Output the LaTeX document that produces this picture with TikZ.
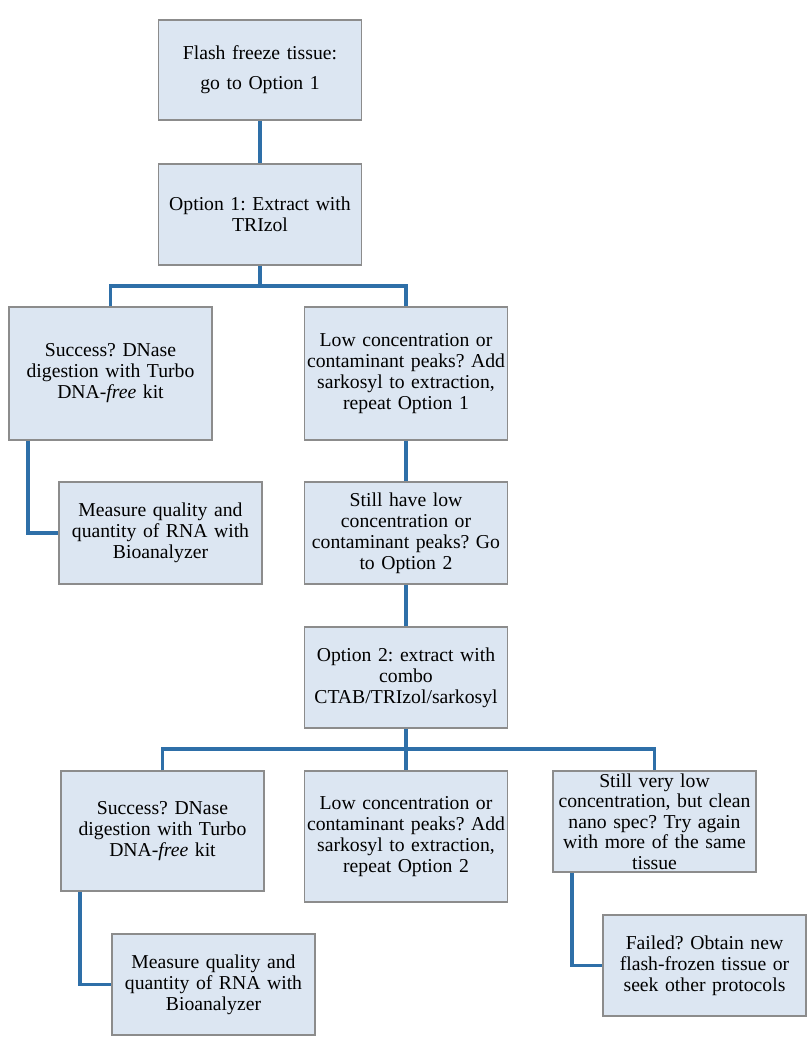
\documentclass[tikz,border=0pt]{standalone}
\usepackage{fontspec}
\setmainfont{Liberation Serif}
\usetikzlibrary{calc}
\definecolor{boxfill}{HTML}{DCE6F2}
\definecolor{boxline}{HTML}{8C8C8C}
\definecolor{linkblue}{HTML}{2E6FA8}
\frenchspacing
\tikzset{
  box/.style={draw=boxline, line width=0.8pt, fill=boxfill, align=center,
    text width=5.075cm, inner xsep=0pt, inner ysep=0pt,
    font=\fontsize{14}{14.9}\selectfont},
  link/.style={draw=linkblue, line width=2.8pt},
}
\begin{document}
\begin{tikzpicture}[x=0.025cm, y=-0.025cm]
		%%%%% START %%%%%
		\useasboundingbox (0, 0) rectangle (807, 1041);
		
		\node[box, minimum height=2.5cm, font=\fontsize{14}{21.3}\selectfont] (flash) at (260, 70) {Flash freeze tissue:\\go to Option 1};
		\node[box, minimum height=2.525cm] (opt1) at (260, 214.5) {Option 1: Extract with\\TRIzol};
		
		\node[box, minimum height=3.325cm] (ok1) at (110.5, 373.5) {Success? DNase\\digestion with Turbo\\DNA-\textit{free} kit};
		\node[box, minimum height=3.325cm] (low1) at (406, 373.5) {Low concentration or\\contaminant peaks? Add\\sarkosyl to extraction,\\repeat Option 1};
		\node[box, minimum height=2.55cm] (meas1) at (160.5, 533) {Measure quality and\\quantity of RNA with\\Bioanalyzer};
		\node[box, minimum height=2.55cm] (still1) at (406, 533) {Still have low\\concentration or\\contaminant peaks? Go\\to Option 2};
		
		\node[box, minimum height=2.525cm] (opt2) at (406, 677.5) {Option 2: extract with\\combo\\CTAB/TRIzol/sarkosyl};
		
		\node[box, minimum height=3cm] (ok2) at (162.5, 831) {Success? DNase\\digestion with Turbo\\DNA-\textit{free} kit};
		\node[box, minimum height=3.275cm] (low2) at (406, 836.5) {Low concentration or\\contaminant peaks? Add\\sarkosyl to extraction,\\repeat Option 2};
		\node[box, minimum height=2.525cm, font=\fontsize{14}{14.6}\selectfont] (still2) at (654.5, 821.5) {Still very low\\concentration, but clean\\nano spec? Try again\\with more of the same\\tissue};
		\node[box, minimum height=2.525cm] (meas2) at (213.5, 984.5) {Measure quality and\\quantity of RNA with\\Bioanalyzer};
		\node[box, minimum height=2.525cm] (fail) at (704.5, 965.5) {Failed? Obtain new\\flash-frozen tissue or\\seek other protocols};
		
		\coordinate (split1) at (260, 286);
		\coordinate (split2) at (406, 749);
		
		\draw[link] (flash) -- (opt1);
		\draw[link] (opt1.south) -- (split1);
		\draw[link] (ok1.north) |- (split1) -| (low1.north);
		\draw[link] ([xshift=0.5cm]ok1.south west) |- (meas1.west);
		\draw[link] (low1) -- (still1);
		\draw[link] (still1) -- (opt2);
		
		\draw[link] (opt2.south) -- (split2);
		\draw[link] (ok2.north) |- (split2) -| (still2.north);
		\draw[link] (split2) -- (low2.north);
		\draw[link] ([xshift=0.5cm]ok2.south west) |- (meas2.west);
		\draw[link] ([xshift=0.5cm]still2.south west) |- (fail.west);
		
		%%%%% END %%%%%
\end{tikzpicture}
\end{document}
